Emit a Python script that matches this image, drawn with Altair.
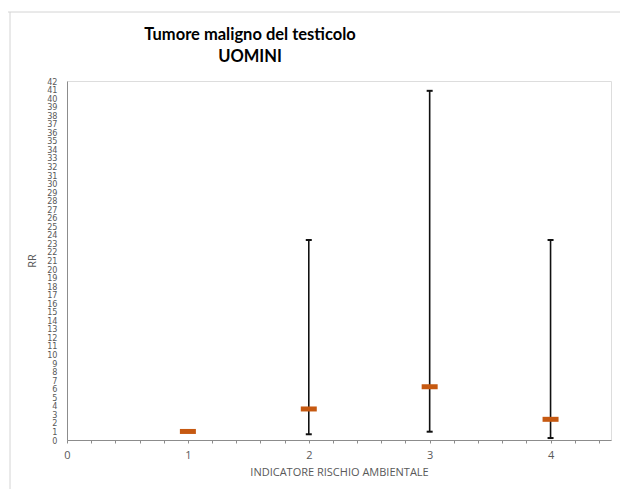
import altair as alt
import pandas as pd

# Relative risk (RR) by environmental-risk indicator class, with 95% CI
groups = [1, 2, 3, 4]
rr = [1.0, 3.63, 6.23, 2.42]
ci_low = [None, 0.67, 0.97, 0.23]
ci_high = [None, 23.4, 40.85, 23.4]

x_ticks = [round(i * 0.2, 1) for i in range(23)]
y_ticks = list(range(0, 43))
title_lines = ["Tumore maligno del testicolo", "UOMINI"]

df = pd.DataFrame({"group": groups, "rr": rr, "low": ci_low, "high": ci_high})
df_ci = df.dropna()

GREY = "#595959"
ORANGE = "#C65911"
FONT_SMALL = "Liberation Sans Narrow, DejaVu Sans Condensed, sans-serif"
FONT = "Open Sans, Liberation Sans, sans-serif"
TITLE_FONT = "Lato, Open Sans, sans-serif"

x_axis = alt.Axis(
    values=x_ticks,
    labelExpr="datum.value % 1 === 0 ? format(datum.value, 'd') : ''",
    title="INDICATORE RISCHIO AMBIENTALE",
    grid=False,
    tickSize=3,
    tickColor="#8c8c8c",
    domainColor="#8c8c8c",
    labelOverlap=False,
    labelFlush=False,
    labelPadding=6,
    labelFontSize=11,
    labelFont=FONT,
    labelColor=GREY,
    titleFontSize=11,
    titleFont=FONT,
    titleFontWeight="normal",
    titleColor=GREY,
    titlePadding=6,
)
x_scale = alt.Scale(domain=[0, 4.5], nice=False, zero=True)

y_axis = alt.Axis(
    values=y_ticks,
    title="RR",
    grid=False,
    ticks=False,
    domainColor="#8c8c8c",
    labelPadding=10,
    labelFontSize=9,
    labelFont=FONT_SMALL,
    labelColor=GREY,
    labelOverlap=False,
    labelBound=False,
    labelFlush=False,
    titleFontSize=11,
    titleFont=FONT,
    titleFontWeight="normal",
    titleColor=GREY,
    titlePadding=9,
)
y_scale = alt.Scale(domain=[0, 42], nice=False)


def xq():
    return alt.X("group:Q", scale=x_scale, axis=x_axis)


def yq(field):
    return alt.Y(f"{field}:Q", scale=y_scale, axis=y_axis)


base = alt.Chart(df_ci)

# confidence-interval whiskers with end caps
bars = base.mark_rule(color="#111111", strokeWidth=1.6).encode(
    x=xq(), y=yq("low"), y2="high:Q"
)
cap_low = base.mark_tick(
    orient="horizontal", color="#111111", size=6, thickness=2, opacity=1
).encode(x=xq(), y=yq("low"))
cap_high = base.mark_tick(
    orient="horizontal", color="#111111", size=6, thickness=2, opacity=1
).encode(x=xq(), y=yq("high"))

# point estimates
points = alt.Chart(df).mark_tick(
    orient="horizontal", color=ORANGE, size=16, thickness=5, opacity=1
).encode(x=xq(), y=yq("rr"))

# outer chart-area frame (left and top edges)
one = alt.Data(values=[{}])
frame_left = alt.Chart(one).mark_rule(color="#d4d4d4", strokeWidth=1).encode(
    x=alt.value(-57), y=alt.value(-69), y2=alt.value(420)
)
frame_top = alt.Chart(one).mark_rule(color="#d4d4d4", strokeWidth=1).encode(
    x=alt.value(-59), x2=alt.value(560), y=alt.value(-69)
)

# two-line chart title
def title_line(text, y):
    return alt.Chart(pd.DataFrame({"line": [text]})).mark_text(
        font=TITLE_FONT, fontSize=16.5, fontWeight="bold",
        color="#000000", align="center", baseline="middle",
    ).encode(text="line:N", x=alt.value(183), y=alt.value(y))


title_top = title_line(title_lines[0], -46)
title_bottom = title_line(title_lines[1], -24)

chart = (
    alt.layer(frame_left, frame_top, title_top, title_bottom, bars, cap_low, cap_high, points)
    .properties(
        width=544,
        height=359,
        autosize=alt.AutoSizeParams(type="none"),
        padding={"left": 67, "top": 81, "right": 9, "bottom": 49},
    )
    .configure_view(stroke="#a6a6a6", strokeWidth=1)
    .configure(background="white")
)

chart.save("out.html", embed_options={"renderer": "svg", "actions": False})
